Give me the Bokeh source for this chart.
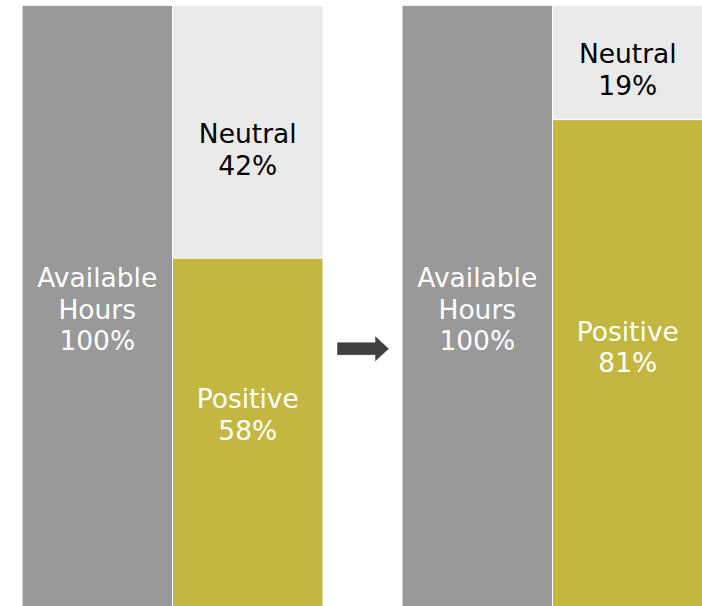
from bokeh.plotting import figure
from bokeh.models import ColumnDataSource, Range1d
from bokeh.core.properties import value
from bokeh.embed import file_html
from bokeh.resources import INLINE

# Share of available hours, before and after
panels = ["Before", "After"]
available = [100, 100]
neutral = [42, 19]
positive = [58, 81]

GRAY = "#999999"
LIGHT = "#EAEAEA"
OLIVE = "#C3B742"
ARROW = "#404040"
FONT = "DejaVu Sans"

W, H = 702, 606
PX_X = 150.5            # pixels per bar width
PX_Y = H / 100.8        # pixels per percentage point
X0 = -0.643
PANEL_STEP = 2.525

p = figure(width=W, height=H, output_backend="svg", toolbar_location=None,
           x_range=Range1d(X0, X0 + W / PX_X), y_range=Range1d(0.05, 100.8),
           min_border=0, outline_line_color=None)
p.axis.visible = False
p.grid.visible = False
p.background_fill_color = "white"
p.border_fill_color = "white"

avail_x = [i * PANEL_STEP for i in range(len(panels))]
split_x = [x + 1 for x in avail_x]

# Available hours column
p.vbar(x=avail_x, width=1, bottom=0, top=available,
       fill_color=GRAY, line_color="white", line_width=1)

# Split column: positive at the bottom, neutral stacked on top
p.vbar(x=split_x, width=1, bottom=0, top=positive,
       fill_color=OLIVE, line_color="white", line_width=1)
p.vbar(x=split_x, width=1, bottom=positive,
       top=[a + b for a, b in zip(positive, neutral)],
       fill_color=LIGHT, line_color="white", line_width=1)

# Labels
lab_x, lab_y, lab_t, lab_c, lab_off = [], [], [], [], []
for i in range(len(panels)):
    lab_x.append(avail_x[i]); lab_y.append(available[i] / 2)
    lab_t.append(f"Available\nHours\n{available[i]}%"); lab_c.append("white")
    lab_off.append(3)
    lab_x.append(split_x[i]); lab_y.append(positive[i] + neutral[i] / 2)
    lab_t.append(f"Neutral\n{neutral[i]}%"); lab_c.append("black")
    lab_off.append([18, 7][i])
    lab_x.append(split_x[i]); lab_y.append(positive[i] / 2)
    lab_t.append(f"Positive\n{positive[i]}%"); lab_c.append("white")
    lab_off.append([-18, -16][i])

src = ColumnDataSource(dict(x=lab_x, y=lab_y, text=lab_t, color=lab_c, off=lab_off))
p.text(x="x", y="y", text="text", source=src, text_color="color",
       text_font=value(FONT), text_font_size="26.5px", text_align="center",
       text_baseline="middle", text_line_height=1.02, y_offset="off")

# Arrow between the two panels
def dx(px):
    return X0 + px / PX_X

def dy(py):
    return 100.8 - py / PX_Y

ax = [337, 375, 375, 388, 375, 375, 337]
ay = [342, 342, 336, 348, 360, 354, 354]
p.patch([dx(v) for v in ax], [dy(v) for v in ay],
        fill_color=ARROW, line_color=ARROW, line_width=0.5)

open("out.html", "w").write(file_html(p, INLINE))
